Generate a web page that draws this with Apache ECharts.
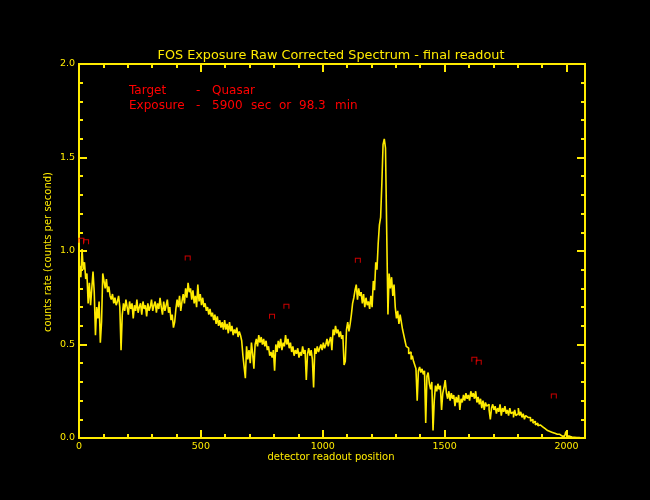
<!DOCTYPE html>
<html>
<head>
<meta charset="utf-8">
<script src="https://cdn.jsdelivr.net/npm/echarts@6/dist/echarts.min.js"></script>
<style>
html,body{margin:0;padding:0;background:#000;}
#chart{width:650px;height:500px;}
</style>
</head>
<body>
<div id="chart"></div>
<script>
// ---- data ----
const titleText = 'FOS Exposure Raw Corrected Spectrum - final readout';
const xLabel = 'detector readout position';
const yLabel = 'counts rate (counts per second)';
const infoLabels = ['Target', 'Exposure'];
const infoValue1 = ['Quasar'];
const infoValue2 = ['5900', 'sec', 'or', '98.3', 'min'];

const detectorStart = 0;     // first detector position
const detectorStep = 5;      // sampling of the values below
const countRate = [
  // 0-95
  0.82,0.92,0.86,1.01,0.90,0.94,0.85,0.88,0.72,0.83,0.71,0.80,0.89,0.78,0.55,0.70,0.64,0.73,0.51,0.62,
  // 100-195
  0.88,0.84,0.80,0.85,0.78,0.81,0.76,0.74,0.77,0.72,0.75,0.71,0.73,0.76,0.70,0.47,0.66,0.72,0.68,0.74,
  // 200-295
  0.70,0.66,0.73,0.69,0.72,0.64,0.71,0.68,0.74,0.67,0.70,0.72,0.66,0.73,0.69,0.71,0.65,0.72,0.68,0.70,
  // 300-395
  0.74,0.68,0.71,0.73,0.67,0.72,0.69,0.75,0.70,0.66,0.73,0.68,0.71,0.74,0.67,0.70,0.63,0.66,0.59,0.62,
  // 400-495
  0.69,0.74,0.70,0.76,0.68,0.73,0.77,0.72,0.80,0.75,0.83,0.78,0.80,0.74,0.79,0.72,0.76,0.70,0.82,0.73,
  // 500-595
  0.77,0.71,0.75,0.70,0.72,0.68,0.70,0.66,0.69,0.65,0.67,0.63,0.66,0.61,0.65,0.60,0.63,0.59,0.62,0.58,
  // 600-695
  0.63,0.58,0.61,0.56,0.62,0.57,0.60,0.55,0.58,0.56,0.59,0.54,0.57,0.55,0.52,0.44,0.38,0.32,0.49,0.42,
  // 700-795
  0.47,0.40,0.51,0.45,0.37,0.50,0.53,0.49,0.55,0.51,0.54,0.50,0.53,0.49,0.52,0.47,0.49,0.44,0.46,0.43,
  // 800-895
  0.47,0.36,0.50,0.46,0.52,0.48,0.53,0.47,0.51,0.49,0.55,0.50,0.53,0.48,0.51,0.46,0.49,0.44,0.47,0.45,
  // 900-995
  0.48,0.43,0.46,0.44,0.49,0.45,0.47,0.31,0.45,0.48,0.44,0.47,0.42,0.27,0.48,0.45,0.49,0.46,0.48,0.50,
  // 1000-1095
  0.47,0.51,0.48,0.50,0.53,0.49,0.52,0.54,0.47,0.58,0.55,0.60,0.56,0.58,0.54,0.57,0.53,0.55,0.39,0.41,
  // 1100-1195
  0.58,0.62,0.57,0.61,0.66,0.72,0.75,0.79,0.82,0.74,0.80,0.76,0.78,0.72,0.77,0.70,0.75,0.71,0.73,0.69,
  // 1200-1295
  0.76,0.70,0.84,0.79,0.94,0.90,1.04,1.14,1.18,1.36,1.57,1.60,1.55,1.10,0.66,0.88,0.80,0.86,0.76,0.82,
  // 1300-1395
  0.70,0.64,0.68,0.61,0.66,0.62,0.58,0.55,0.52,0.49,0.48,0.45,0.46,0.42,0.44,0.41,0.39,0.37,0.20,0.36,
  // 1400-1495
  0.38,0.35,0.37,0.34,0.36,0.08,0.33,0.35,0.29,0.26,0.30,0.04,0.20,0.28,0.25,0.29,0.26,0.28,0.15,0.24,
  // 1500-1595
  0.27,0.31,0.24,0.21,0.25,0.20,0.24,0.21,0.23,0.17,0.22,0.19,0.23,0.15,0.21,0.19,0.23,0.20,0.24,0.21,
  // 1600-1695
  0.23,0.20,0.25,0.22,0.24,0.21,0.25,0.19,0.22,0.18,0.21,0.16,0.20,0.15,0.19,0.17,0.18,0.15,0.10,0.16,
  // 1700-1795
  0.18,0.15,0.17,0.13,0.16,0.14,0.18,0.12,0.16,0.14,0.17,0.13,0.15,0.12,0.16,0.13,0.14,0.11,0.15,0.12,
  // 1800-1895
  0.13,0.16,0.12,0.14,0.11,0.13,0.10,0.12,0.11,0.10,0.11,0.09,0.10,0.08,0.09,0.07,0.08,0.065,0.07,0.06,
  // 1900-1995
  0.06,0.055,0.05,0.045,0.04,0.04,0.035,0.03,0.03,0.025,0.025,0.02,0.02,0.015,0.02,0.015,0.012,0.01,0.012,0.01,
  // 2000-2070
  0.035,0.01,0.008,0.01,0.005,0.008,0.004,0.006,0.003,0.005,0.002,0.004,0.0,0.002,0.0
];

// red line markers
const markerX = [10, 29, 446, 792, 851, 1144, 1622, 1640, 1948];
const markerY = [1.058, 1.05, 0.963, 0.651, 0.704, 0.95, 0.421, 0.405, 0.224];

// axis settings
const xMin = 0, xMax = 2076, xMajor = 500, xMinor = 100;
const yMin = 0, yMax = 2.0, yMajor = 0.5;

// ---- chart ----
const YEL = '#ffeb00';
const RED = '#ff0000';
const FONT = 'DejaVu Sans';

const spectrum = countRate.map((v, i) => [detectorStart + i * detectorStep, v]);
const markers = markerX.map((x, i) => [x, markerY[i]]);

function xAxisDef(pos, interval, len, labels) {
  return {
    type: 'value', position: pos, min: xMin, max: xMax, interval: interval,
    axisLine: { show: true, onZero: false, lineStyle: { color: YEL, width: 2 } },
    axisTick: { show: true, inside: true, length: len, lineStyle: { color: YEL, width: 2 } },
    axisLabel: labels ? { show: true, color: YEL, fontFamily: FONT, fontSize: 9.5, margin: 4, showMaxLabel: false, formatter: v => String(v) } : { show: false },
    splitLine: { show: false }
  };
}
function yAxisDef(pos, labels) {
  return {
    type: 'value', position: pos, min: yMin, max: yMax, interval: yMajor,
    axisLine: { show: true, onZero: false, lineStyle: { color: YEL, width: 2 } },
    axisTick: { show: true, inside: true, length: 8, lineStyle: { color: YEL, width: 2 } },
    minorTick: { show: true, splitNumber: 5, length: 4, lineStyle: { color: YEL, width: 2 } },
    axisLabel: labels ? { show: true, color: YEL, fontFamily: FONT, fontSize: 9.5, margin: 4, formatter: v => v.toFixed(1) } : { show: false },
    splitLine: { show: false }, minorSplitLine: { show: false }
  };
}

function redText(txt, x, y) {
  return { type: 'text', x: x, y: y, style: { text: txt, fill: RED, font: '12px "DejaVu Sans"', align: 'left', verticalAlign: 'middle' } };
}

const chart = echarts.init(document.getElementById('chart'), null, { renderer: 'canvas' });
chart.setOption({
  backgroundColor: '#000',
  animation: false,
  grid: { left: 79, right: 65, top: 64, bottom: 62 },
  xAxis: [
    xAxisDef('bottom', xMajor, 8, true),
    xAxisDef('bottom', xMinor, 4, false),
    xAxisDef('top', xMajor, 8, false),
    xAxisDef('top', xMinor, 4, false)
  ],
  yAxis: [yAxisDef('left', true), yAxisDef('right', false)],
  series: [
    {
      type: 'line', step: 'middle', data: spectrum, xAxisIndex: 0, yAxisIndex: 0,
      showSymbol: false, symbol: 'none',
      lineStyle: { color: YEL, width: 1.6 }, z: 3
    },
    {
      type: 'scatter', data: markers, xAxisIndex: 0, yAxisIndex: 0,
      symbol: 'path://M0,0 H6 V5 H5 V1 H1 V5 H0 Z', symbolSize: [6, 5],
      itemStyle: { color: RED }, z: 4
    }
  ],
  graphic: [
    { type: 'text', x: 331, y: 56, style: { text: titleText, fill: YEL, font: '12.8px "DejaVu Sans"', align: 'center', verticalAlign: 'middle' } },
    { type: 'text', x: 331, y: 457, style: { text: xLabel, fill: YEL, font: '10px "DejaVu Sans"', align: 'center', verticalAlign: 'middle' } },
    { type: 'text', x: 48, y: 252, rotation: Math.PI / 2, style: { text: yLabel, fill: YEL, font: '10px "DejaVu Sans"', align: 'center', verticalAlign: 'middle' } },
    redText(infoLabels[0], 129, 91),
    redText(infoLabels[1], 129, 106),
    redText('-', 196, 91),
    redText('-', 196, 106),
    redText(infoValue1[0], 212, 91),
    redText(infoValue2[0], 212, 106),
    redText(infoValue2[1], 251, 106),
    redText(infoValue2[2], 279, 106),
    redText(infoValue2[3], 299, 106),
    redText(infoValue2[4], 335, 106)
  ]
});
</script>
</body>
</html>
